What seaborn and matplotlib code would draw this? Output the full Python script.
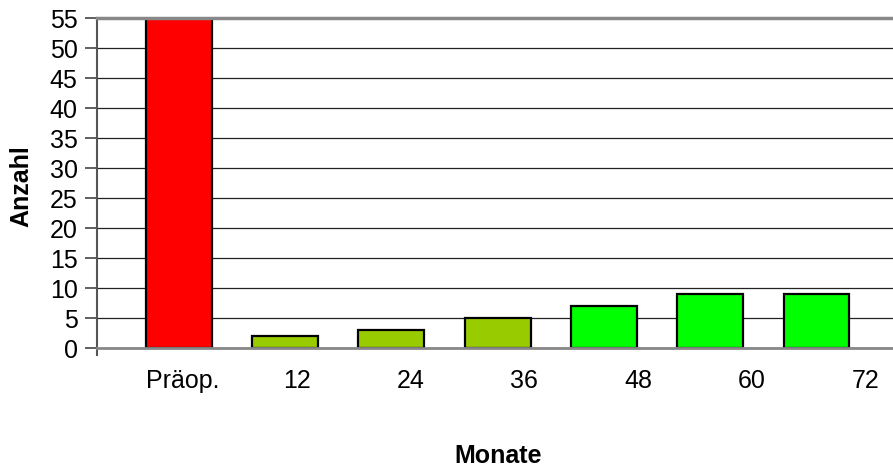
import numpy as np
import matplotlib
matplotlib.use("Agg")
import matplotlib.pyplot as plt
import seaborn as sns

# chart data
kategorien = ["Präop.", "12", "24", "36", "48", "60", "72"]
anzahl = [55, 2, 3, 5, 7, 9, 9]
farben = ["#FF0000", "#99CC00", "#99CC00", "#99CC00", "#00FF00", "#00FF00", "#00FF00"]
y_ticks = list(range(0, 60, 5))

sns.set_style("white")
plt.rcParams["font.family"] = ["Liberation Sans", "DejaVu Sans"]
plt.rcParams["text.color"] = "black"
plt.rcParams["xtick.color"] = "black"
plt.rcParams["ytick.color"] = "black"
plt.rcParams["axes.labelcolor"] = "black"

fig = plt.figure(figsize=(8.93, 4.68), dpi=100)
ax = fig.add_axes([97 / 893, 120 / 468, 796 / 893, 330 / 468])

sns.barplot(x=kategorien, y=anzahl, hue=kategorien, palette=farben,
            order=kategorien, hue_order=kategorien, legend=False,
            width=0.62, edgecolor="black", linewidth=1.6, saturation=1, ax=ax)

ax.set_ylim(0, 55)
ax.set_xlim(-0.77, 6.72)
ax.set_yticks(y_ticks)
ax.yaxis.grid(True, color="#222222", linewidth=0.9)
ax.set_axisbelow(True)

# tick labels sit a bit to the right of the bars, as in the original
pos = np.arange(len(kategorien))
ax.set_xticks(pos * 1.07 + 0.04)
ax.set_xticklabels(kategorien)

ax.tick_params(axis="x", length=0, pad=15, labelsize=18)
ax.tick_params(axis="y", left=True, length=9, width=1.2, color="#444444",
               direction="out", pad=5, labelsize=18)

ax.spines["right"].set_visible(False)
ax.spines["top"].set_color("#888888")
ax.spines["top"].set_linewidth(2.5)
ax.spines["bottom"].set_color("#888888")
ax.spines["bottom"].set_linewidth(2)
ax.spines["left"].set_color("#555555")
ax.spines["left"].set_linewidth(1.5)
ax.spines["left"].set_bounds(-1.2, 55)

ax.set_ylabel("Anzahl", fontsize=18, fontweight="bold")
ax.set_xlabel("Monate", fontsize=18, fontweight="bold")
ax.yaxis.set_label_coords(-0.080, 0.49)
ax.xaxis.set_label_coords(0.504, -0.29)

fig.savefig("out.png", dpi=100)
